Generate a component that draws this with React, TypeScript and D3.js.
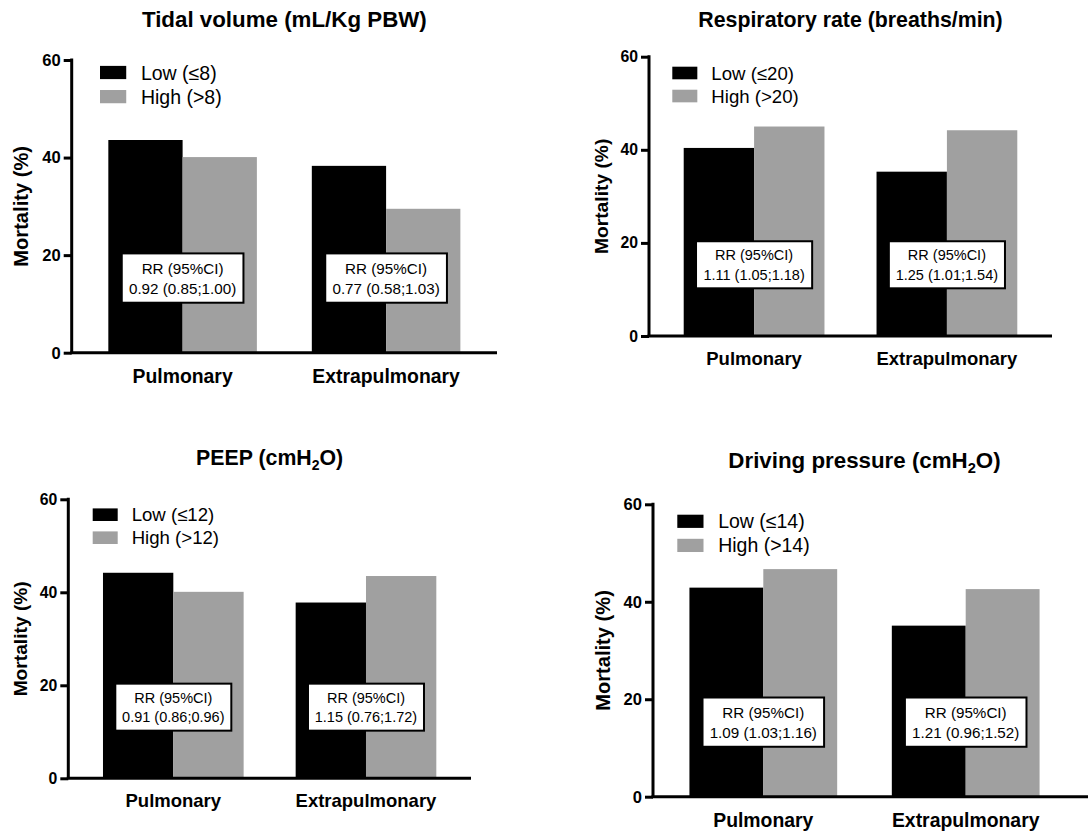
import * as d3 from "d3";
import React, {useRef, useEffect} from "react";

// chart data
const categories = ["Pulmonary", "Extrapulmonary"];
const titles = ["Tidal volume (mL/Kg PBW)", "Respiratory rate (breaths/min)", "PEEP (cmH2O)", "Driving pressure (cmH2O)"];
const lowLabels = ["Low (≤8)", "Low (≤20)", "Low (≤12)", "Low (≤14)"];
const highLabels = ["High (>8)", "High (>20)", "High (>12)", "High (>14)"];
const lowValues = [[43.6, 38.3], [40.4, 35.3], [44.2, 37.8], [42.9, 35.1]];
const highValues = [[40.1, 29.5], [45.0, 44.2], [40.1, 43.5], [46.7, 42.6]];
const rrValues = [
    ["0.92 (0.85;1.00)", "0.77 (0.58;1.03)"],
    ["1.11 (1.05;1.18)", "1.25 (1.01;1.54)"],
    ["0.91 (0.86;0.96)", "1.15 (0.76;1.72)"],
    ["1.09 (1.03;1.16)", "1.21 (0.96;1.52)"],
];
const rrHeader = "RR (95%CI)";
const yTicks = [0, 20, 40, 60];
const yMax = 60;
const rrLevel = 15.3;

// where each panel sits on the page
const layouts = [
    {axisX: 71.7, yTop: 60, yBottom: 352.7, bandEnd: 497, xEnd: 497, titleY: 27, yLabelOff: 51, lx: 100, ly: 72.5},
    {axisX: 649, yTop: 56.7, yBottom: 336, bandEnd: 1052, xEnd: 1052, titleY: 26.5, yLabelOff: 48, lx: 672.3, ly: 73},
    {axisX: 68.3, yTop: 499.3, yBottom: 778.3, bandEnd: 471, xEnd: 471, titleY: 465, yLabelOff: 48, lx: 92.7, ly: 514.7},
    {axisX: 653, yTop: 504.3, yBottom: 796.7, bandEnd: 1076, xEnd: 1095, titleY: 468, yLabelOff: 50, lx: 677.3, ly: 521.3},
];

const FONT = "'Liberation Sans', Arial, Helvetica, sans-serif";
const GREY = "#a0a0a0";

function App() {

    const ref = useRef();

    useEffect(() => {

        const svg = d3.select(ref.current);
        svg.selectAll("*").remove();

        layouts.forEach((L, p) => {

            const k = (L.yBottom - L.yTop) / 279;

            const y = d3.scaleLinear()
                .domain([0, yMax])
                .range([L.yBottom, L.yTop]);

            const x = d3.scaleBand()
                .domain(categories)
                .range([L.axisX, L.bandEnd])
                .paddingInner(0.27)
                .paddingOuter(0.18);

            const g = svg.append("g").attr("font-family", FONT);

            // bars
            categories.forEach((c, i) => {
                const x0 = x(c);
                const half = x.bandwidth() / 2;
                g.append("rect")
                    .attr("x", x0)
                    .attr("y", y(lowValues[p][i]))
                    .attr("width", half)
                    .attr("height", y(0) - y(lowValues[p][i]))
                    .attr("fill", "#000");
                g.append("rect")
                    .attr("x", x0 + half)
                    .attr("y", y(highValues[p][i]))
                    .attr("width", half)
                    .attr("height", y(0) - y(highValues[p][i]))
                    .attr("fill", GREY);
            });

            // y axis
            const axis = g.append("g")
                .attr("transform", `translate(${L.axisX},0)`)
                .call(d3.axisLeft(y).tickValues(yTicks).tickSize(8).tickPadding(3).tickSizeOuter(0));
            axis.select(".domain").remove();
            axis.selectAll(".tick line").attr("stroke", "#000").attr("stroke-width", 3);
            axis.selectAll(".tick text")
                .style("font-family", FONT)
                .style("font-weight", "bold")
                .style("font-size", `${15.8 * k}px`)
                .attr("fill", "#000");

            g.append("line")
                .attr("x1", L.axisX).attr("x2", L.axisX)
                .attr("y1", L.yTop - 1.5).attr("y2", L.yBottom)
                .attr("stroke", "#000").attr("stroke-width", 3);
            g.append("line")
                .attr("x1", L.axisX - 1.5).attr("x2", L.xEnd)
                .attr("y1", L.yBottom).attr("y2", L.yBottom)
                .attr("stroke", "#000").attr("stroke-width", 3);

            // category labels
            g.selectAll(".cat")
                .data(categories)
                .enter()
                .append("text")
                .text(d => d)
                .attr("x", d => x(d) + x.bandwidth() / 2)
                .attr("y", L.yBottom + 29 * k)
                .attr("text-anchor", "middle")
                .attr("font-weight", "bold")
                .attr("font-size", 18.5 * k);

            // y label
            g.append("text")
                .text("Mortality (%)")
                .attr("transform", `translate(${L.axisX - L.yLabelOff},${(L.yTop + L.yBottom) / 2}) rotate(-90)`)
                .attr("text-anchor", "middle")
                .attr("dominant-baseline", "central")
                .attr("font-weight", "bold")
                .attr("font-size", 19.2 * k);

            // title, with subscript for H2O
            const title = g.append("text")
                .attr("x", (L.axisX + L.bandEnd) / 2)
                .attr("y", L.titleY)
                .attr("text-anchor", "middle")
                .attr("font-weight", "bold")
                .attr("font-size", 21.3 * k);
            const t = titles[p];
            const hIdx = t.indexOf("H2O");
            if (hIdx >= 0) {
                title.append("tspan").text(t.slice(0, hIdx + 1));
                title.append("tspan").text("2").attr("font-size", 14 * k).attr("dy", 5 * k);
                title.append("tspan").text(t.slice(hIdx + 2)).attr("dy", -5 * k);
            } else {
                title.text(t);
            }

            // legend
            [[lowLabels[p], "#000"], [highLabels[p], GREY]].forEach((d, i) => {
                const cy = L.ly + i * 23 * k;
                g.append("rect")
                    .attr("x", L.lx)
                    .attr("y", cy - 6.3 * k)
                    .attr("width", 25 * k)
                    .attr("height", 12.6 * k)
                    .attr("fill", d[1]);
                g.append("text")
                    .text(d[0])
                    .attr("x", L.lx + 39 * k)
                    .attr("y", cy)
                    .attr("dominant-baseline", "central")
                    .attr("font-size", 18.6 * k);
            });

            // RR boxes
            categories.forEach((c, i) => {
                const cx = x(c) + x.bandwidth() / 2;
                const cy = y(rrLevel);
                const bw = 116 * k;
                const bh = 47 * k;
                g.append("rect")
                    .attr("x", cx - bw / 2)
                    .attr("y", cy - bh / 2)
                    .attr("width", bw)
                    .attr("height", bh)
                    .attr("fill", "#fff")
                    .attr("stroke", "#000")
                    .attr("stroke-width", 2);
                g.append("text")
                    .text(rrHeader)
                    .attr("x", cx)
                    .attr("y", cy - 9.5 * k)
                    .attr("text-anchor", "middle")
                    .attr("dominant-baseline", "central")
                    .attr("font-size", 14.5 * k);
                g.append("text")
                    .text(rrValues[p][i])
                    .attr("x", cx)
                    .attr("y", cy + 10 * k)
                    .attr("text-anchor", "middle")
                    .attr("dominant-baseline", "central")
                    .attr("font-size", 14.5 * k);
            });
        });

    }, []);

    return (
        <svg ref={ref} width={1088} height={835}
             style={{position: "absolute", left: 0, top: 0, background: "#fff"}}/>
    );
}

export default App;
